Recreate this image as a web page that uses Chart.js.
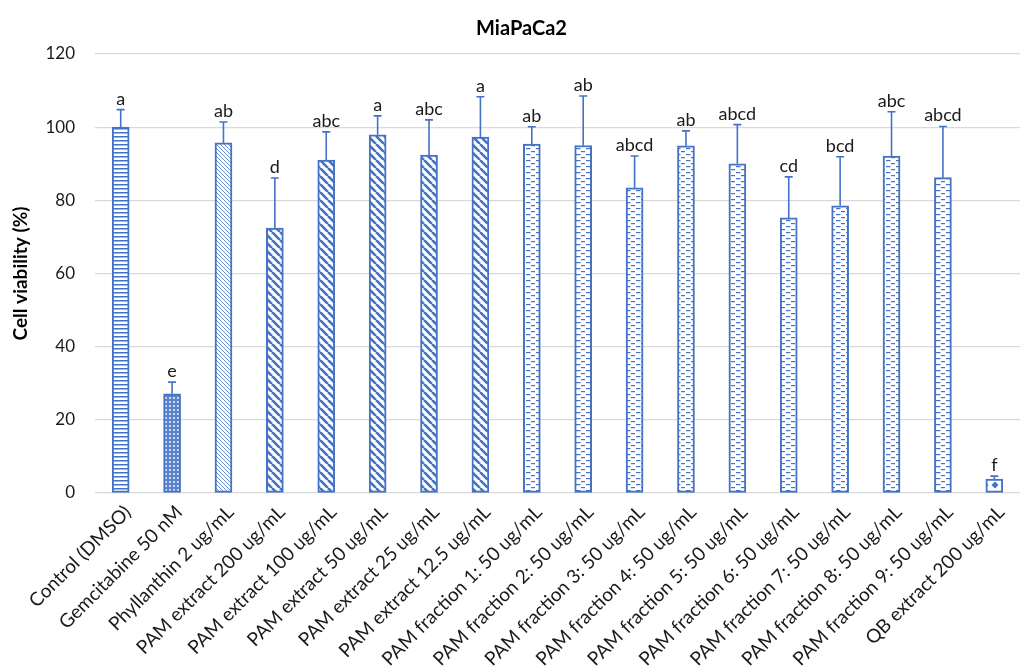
<!DOCTYPE html>
<html>
<head>
<meta charset="utf-8">
<script src="https://cdn.jsdelivr.net/npm/chart.js@4.4.1/dist/chart.umd.min.js"></script>
<style>
  html, body { margin: 0; padding: 0; background: #ffffff; }
  #wrap { width: 1027px; height: 668px; position: relative; }
</style>
</head>
<body>
<div id="wrap"><canvas id="chart" width="1027" height="668"></canvas></div>
<script>
// Treatments along the x axis
const categories = [
  'Control (DMSO)', 'Gemcitabine 50 nM', 'Phyllanthin 2 ug/mL',
  'PAM extract 200 ug/mL', 'PAM extract 100 ug/mL', 'PAM extract 50 ug/mL',
  'PAM extract 25 ug/mL', 'PAM extract 12.5 ug/mL',
  'PAM fraction 1: 50 ug/mL', 'PAM fraction 2: 50 ug/mL', 'PAM fraction 3: 50 ug/mL',
  'PAM fraction 4: 50 ug/mL', 'PAM fraction 5: 50 ug/mL', 'PAM fraction 6: 50 ug/mL',
  'PAM fraction 7: 50 ug/mL', 'PAM fraction 8: 50 ug/mL', 'PAM fraction 9: 50 ug/mL',
  'QB extract 200 ug/mL'
];
// Mean cell viability (%)
const viability = [100, 27.1, 95.7, 72.4, 91.0, 97.9, 92.4, 97.3, 95.4, 95.0, 83.4, 94.9, 90.0, 75.2, 78.5, 92.1, 86.2, 3.8];
// Upper error (SD) above each mean
const errorPlus = [4.8, 3.2, 5.7, 13.7, 7.7, 5.2, 9.6, 11.0, 4.7, 13.5, 8.7, 4.1, 10.7, 11.2, 13.4, 12.1, 14.0, 0.8];
// Significance groups
const groupLetters = ['a', 'e', 'ab', 'd', 'abc', 'a', 'abc', 'a', 'ab', 'ab', 'abcd', 'ab', 'abcd', 'cd', 'bcd', 'abc', 'abcd', 'f'];
// Fill pattern per treatment group
const fillKinds = ['hlines', 'grid', 'fineDiag', 'diag', 'diag', 'diag', 'diag', 'diag',
  'dash', 'dash', 'dash', 'dash', 'dash', 'dash', 'dash', 'dash', 'dash', 'diamond'];
// Y axis ticks
const yTicks = [0, 20, 40, 60, 80, 100, 120];

const BLUE = '#4472C4';
const FONT = 'Lato, "Open Sans", sans-serif';

function makePattern(kind) {
  const c = document.createElement('canvas');
  const g = c.getContext('2d');
  let s = 8;
  if (kind === 'hlines') {
    c.width = 8; c.height = 4;
    g.fillStyle = '#fff'; g.fillRect(0, 0, 8, 4);
    g.fillStyle = BLUE; g.fillRect(0, 0, 8, 1.5);
  } else if (kind === 'grid') {
    c.width = 4; c.height = 4;
    g.fillStyle = '#5b83cc'; g.fillRect(0, 0, 4, 4);
    g.fillStyle = 'rgba(255,255,255,0.7)';
    g.fillRect(1, 1, 2, 2);
  } else if (kind === 'fineDiag' || kind === 'diag') {
    s = kind === 'diag' ? 8 : 4;
    c.width = s; c.height = s;
    g.fillStyle = '#fff'; g.fillRect(0, 0, s, s);
    g.strokeStyle = BLUE;
    g.lineWidth = kind === 'diag' ? 2.6 : 1;
    g.globalAlpha = kind === 'diag' ? 1 : 0.8;
    for (const k of [-s, 0, s]) {
      g.beginPath(); g.moveTo(k, 0); g.lineTo(k + s, s); g.stroke();
    }
  } else if (kind === 'dash') {
    c.width = 10; c.height = 6;
    g.fillStyle = '#fff'; g.fillRect(0, 0, 10, 6);
    g.fillStyle = BLUE;
    g.fillRect(1, 1, 4, 1.2);
    g.fillRect(6, 4, 4, 1.2);
    g.fillRect(0, 4, 0.5, 1.2);
  } else if (kind === 'diamond') {
    c.width = 10; c.height = 10;
    g.fillStyle = '#fff'; g.fillRect(0, 0, 10, 10);
    g.fillStyle = BLUE;
    g.beginPath(); g.moveTo(5, 1.5); g.lineTo(8.5, 5); g.lineTo(5, 8.5); g.lineTo(1.5, 5); g.closePath(); g.fill();
  }
  return g.createPattern(c, 'repeat');
}

const fills = fillKinds.map(makePattern);

// Error bars with caps plus significance letters above them
const errorBarPlugin = {
  id: 'errorBars',
  afterDatasetsDraw(chart) {
    const ctx = chart.ctx;
    const y = chart.scales.y;
    const meta = chart.getDatasetMeta(0);
    ctx.save();
    meta.data.forEach((bar, i) => {
      const x = bar.x;
      const yMean = y.getPixelForValue(viability[i]);
      const yTop = y.getPixelForValue(viability[i] + errorPlus[i]);
      ctx.strokeStyle = BLUE;
      ctx.lineWidth = 1.6;
      ctx.beginPath();
      ctx.moveTo(x, yMean); ctx.lineTo(x, yTop);
      ctx.moveTo(x - 4, yTop); ctx.lineTo(x + 4, yTop);
      ctx.stroke();
      ctx.fillStyle = '#1a1a1a';
      ctx.font = '18px ' + FONT;
      ctx.textAlign = 'center';
      ctx.textBaseline = 'alphabetic';
      ctx.fillText(groupLetters[i], x, yTop - 5);
    });
    ctx.restore();
  }
};

// Chart heading
const titlePlugin = {
  id: 'heading',
  afterDraw(chart) {
    const ctx = chart.ctx;
    ctx.save();
    ctx.fillStyle = '#000';
    ctx.font = 'bold 20px ' + FONT;
    ctx.textAlign = 'center';
    ctx.textBaseline = 'middle';
    const a = chart.chartArea;
    ctx.fillText('MiaPaCa2', (a.left + a.right) / 2 - 36, 29);
    ctx.restore();
  }
};

new Chart(document.getElementById('chart'), {
  type: 'bar',
  data: {
    labels: categories,
    datasets: [{
      data: viability,
      backgroundColor: fills,
      borderColor: BLUE,
      borderWidth: 2,
      barThickness: 17,
      borderSkipped: false
    }]
  },
  options: {
    responsive: false,
    animation: false,
    events: [],
    layout: { padding: { top: 54, right: 7, left: 0, bottom: 0 } },
    plugins: {
      legend: { display: false },
      title: { display: false },
      tooltip: { enabled: false }
    },
    scales: {
      x: {
        grid: { display: false },
        border: { display: false },
        ticks: {
          autoSkip: false,
          minRotation: 45,
          maxRotation: 45,
          padding: 0,
          labelOffset: 7,
          color: '#1a1a1a',
          font: { family: FONT, size: 19 }
        },
        afterFit(scale) { scale.height = 175; }
      },
      y: {
        min: 0,
        max: 120,
        afterBuildTicks(scale) { scale.ticks = yTicks.map(v => ({ value: v })); },
        grid: { color: '#d9d9d9', lineWidth: 1.3, drawTicks: false },
        border: { display: false },
        ticks: {
          padding: 20,
          color: '#1a1a1a',
          font: { family: FONT, size: 17 }
        },
        title: {
          display: true,
          text: 'Cell viability (%)',
          color: '#000',
          font: { family: FONT, size: 19, weight: 'bold' },
          padding: { top: 9, bottom: 0 }
        },
        afterFit(scale) { scale.width = 95; }
      }
    }
  },
  plugins: [errorBarPlugin, titlePlugin]
});
</script>
</body>
</html>
